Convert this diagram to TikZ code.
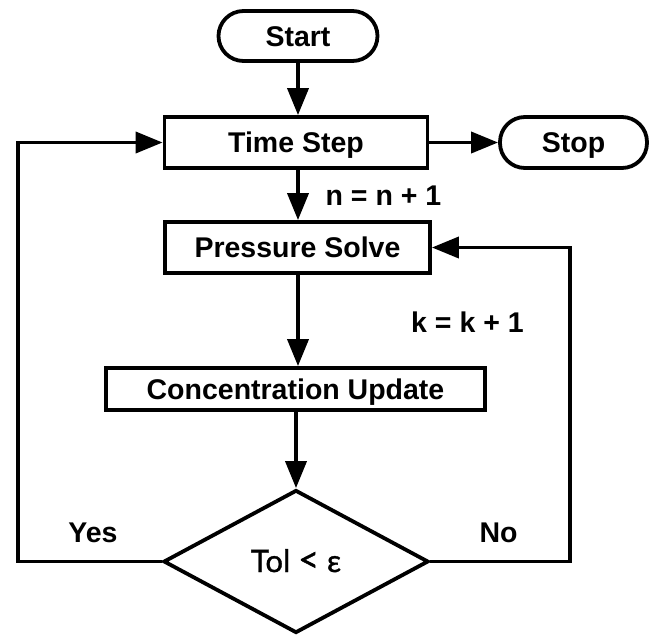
\documentclass[tikz,border=0pt]{standalone}
\usepackage{fontspec}
\setmainfont{Liberation Sans}
\newfontfamily\tolfont[FakeBold=1.2]{Lato}
\usetikzlibrary{shapes.geometric,arrows.meta}
\begin{document}
\begin{tikzpicture}[x=1pt,y=-1pt,
  every node/.style={font=\fontsize{28.5}{34}\selectfont\bfseries},
  box/.style={draw, line width=3.8pt, inner sep=0pt, text height=20.4pt, text depth=0pt, align=center},
  term/.style={box, rounded corners=25pt},
  conn/.style={line width=3.8pt, -{Triangle[length=27pt,width=21pt]}},
  lbl/.style={anchor=base, inner sep=0pt},
  decision/.style={draw, diamond, line width=3.8pt, inner sep=0pt, minimum width=265pt, minimum height=143pt,
    text height=21pt, text depth=0pt, font=\tolfont\fontsize{31}{36}\selectfont}]
\useasboundingbox (0,0) rectangle (653,638);
\node[term, minimum width=159pt, minimum height=50pt] (start) at (298,36) {Start};
\node[box, minimum width=263pt, minimum height=51pt] (ts) at (296,142.5) {Time Step};
\node[term, minimum width=147pt, minimum height=51pt] (stop) at (573.5,142.5) {Stop};
\node[box, minimum width=265pt, minimum height=51pt] (ps) at (297.5,247.5) {Pressure Solve};
\node[box, minimum width=379pt, minimum height=42pt] (cu) at (295.5,389) {Concentration Update};
\node[decision] (dec) at (296,561.5) {Tol {\fontsize{36}{36}\selectfont<} ε};
\node[lbl] (n) at (383.5,205) {n = n + 1};
\node[lbl] (k) at (467.5,332) {k = k + 1};
\node[lbl] (yes) at (93,542) {Yes};
\node[lbl] (no) at (498.5,542) {No};
\coordinate (lft) at (18,561.5);
\coordinate (rgt) at (570,561.5);
\draw[conn] (start.south) -- (start.south |- ts.north);
\draw[conn] (ts.east) -- (stop.west);
\draw[conn] (ts.south -| start.south) -- (start.south |- ps.north);
\draw[conn] (ps.south -| start.south) -- (start.south |- cu.north);
\draw[conn] (cu.south -| dec.north) -- (dec.north);
\draw[conn] (dec.west) -- (lft) |- (ts.west);
\draw[conn] (dec.east) -- (rgt) |- (ps.east);
\end{tikzpicture}
\end{document}
